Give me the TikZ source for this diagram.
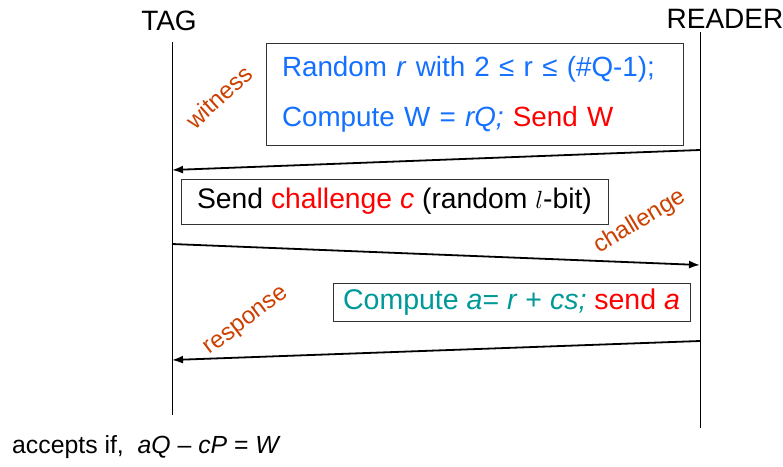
\documentclass[tikz,border=0pt]{standalone}
\usepackage{fontspec}
\setmainfont{Liberation Sans}
\usetikzlibrary{arrows.meta}
\definecolor{cblue}{RGB}{20,112,255}
\definecolor{cred}{RGB}{255,0,0}
\definecolor{cteal}{RGB}{0,153,153}
\definecolor{corange}{RGB}{204,64,0}
\begin{document}
\begin{tikzpicture}[x=1pt,y=-1pt,
  box/.style={draw=black!80,line width=0.9pt,inner sep=0pt},
  msg/.style={line width=1.8pt,-{Latex[length=11pt,width=8pt]}},
  life/.style={line width=0.9pt},
  lbl/.style={text=corange,font=\fontsize{24}{26}\selectfont,inner sep=0pt},
  head/.style={font=\fontsize{28}{30}\selectfont,inner sep=0pt}]
\useasboundingbox (0,0) rectangle (783,466);
\node[head] (tag) at (169,21) {TAG};
\node[head] (reader) at (725,19) {READER};
\coordinate (t0) at (172,42);
\coordinate (t1) at (172,415);
\coordinate (r0) at (700,32);
\coordinate (r1) at (700,428);
\draw[life] (t0) -- (t1);
\draw[life] (r0) -- (r1);
% box 1
\node[box,minimum width=417pt,minimum height=102pt,text width=385pt,align=left,text=cblue,
  font=\fontsize{27.8}{50}\selectfont] (b1) at (474.5,94)
  {Random \textit{r} with 2 ≤ r ≤ (\#Q-1);\\Compute W = \textit{rQ;} \textcolor{cred}{Send W}};
\coordinate (a1s) at (700,150);
\coordinate (a1e) at (172,170);
\draw[msg] (a1s) -- (a1e);
\node[lbl,rotate=42] (wit) at (219,97) {witness};
% box 2
\node[box,minimum width=427pt,minimum height=45pt,align=left,
  font=\fontsize{28.3}{30}\selectfont] (b2) at (394.5,201.5)
  {Send \textcolor{cred}{challenge \textit{c}} (random $l$-bit)};
\coordinate (a2s) at (172,244);
\coordinate (a2e) at (700,265);
\draw[msg] (a2s) -- (a2e);
\node[lbl,rotate=31] (chal) at (640,222) {challenge};
% box 3
\node[box,minimum width=357pt,minimum height=38pt,align=left,text=cteal,
  font=\fontsize{28.5}{30}\selectfont] (b3) at (511.5,302)
  {Compute \textit{a}= \textit{r} + \textit{cs;} \textcolor{cred}{send \textit{a}}};
\coordinate (a3s) at (700,341);
\coordinate (a3e) at (172,360);
\draw[msg] (a3s) -- (a3e);
\node[lbl,rotate=37] (resp) at (247,322) {response};
% bottom
\node[anchor=west,inner sep=0pt,font=\fontsize{24.8}{28}\selectfont] (acc) at (12,447)
  {accepts if,\ \ \textit{aQ} – \textit{cP} = \textit{W}};
\end{tikzpicture}
\end{document}
